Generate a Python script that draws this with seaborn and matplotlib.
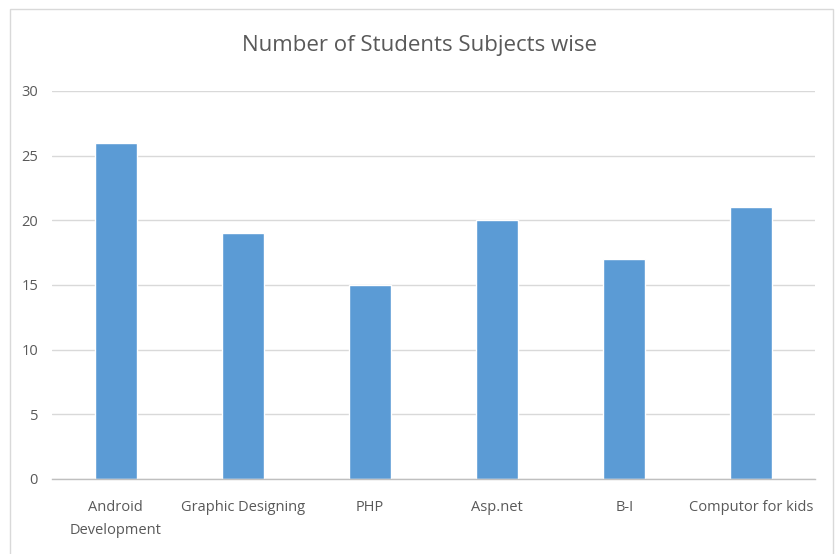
import matplotlib
matplotlib.use("Agg")
import matplotlib.pyplot as plt
from matplotlib import font_manager
from matplotlib.patches import Rectangle
import seaborn as sns
import pandas as pd

subjects = ["Android\nDevelopment", "Graphic Designing", "PHP", "Asp.net", "B-I", "Computor for kids"]
students = [26, 19, 15, 20, 17, 21]
y_ticks = [0, 5, 10, 15, 20, 25, 30]

df = pd.DataFrame({"subject": subjects, "students": students})

sns.set_theme(style="white")
names = {f.name for f in font_manager.fontManager.ttflist}
family = [n for n in ["Liberation Sans Narrow", "Open Sans", "DejaVu Sans"] if n in names]
plt.rcParams["font.family"] = family

text_color = "#595959"
fig = plt.figure(figsize=(8.38, 5.54), dpi=100)
fig.patch.set_facecolor("white")
fig.add_artist(Rectangle((10 / 838, -0.01), 823 / 838, 1 - 9 / 554 + 0.01,
                         transform=fig.transFigure, fill=False,
                         edgecolor="#D9D9D9", linewidth=1.0))

ax = fig.add_axes([52 / 838, 1 - 479 / 554, (815 - 52) / 838, (479 - 91) / 554])
sns.barplot(data=df, x="subject", y="students", color="#5B9BD5",
            width=0.33, saturation=1, ax=ax)

ax.set_ylim(0, 30)
ax.set_yticks(y_ticks)
ax.set_xlim(-0.5, len(subjects) - 0.5)
ax.yaxis.grid(True, color="#D9D9D9", linewidth=1.0)
ax.set_axisbelow(True)
for side in ["left", "right", "top"]:
    ax.spines[side].set_visible(False)
ax.spines["bottom"].set_color("#BFBFBF")
ax.spines["bottom"].set_linewidth(1.0)
ax.tick_params(axis="both", length=0, labelsize=10.5, colors=text_color)
ax.tick_params(axis="y", pad=10)
ax.tick_params(axis="x", pad=15)
for lbl in ax.get_xticklabels():
    lbl.set_linespacing(1.75)
ax.set_xlabel("")
ax.set_ylabel("")

fig.text(0.5, 1 - 45 / 554, "Number of Students Subjects wise", ha="center", va="center",
         fontsize=16, color=text_color)

fig.savefig("out.png", dpi=100)
